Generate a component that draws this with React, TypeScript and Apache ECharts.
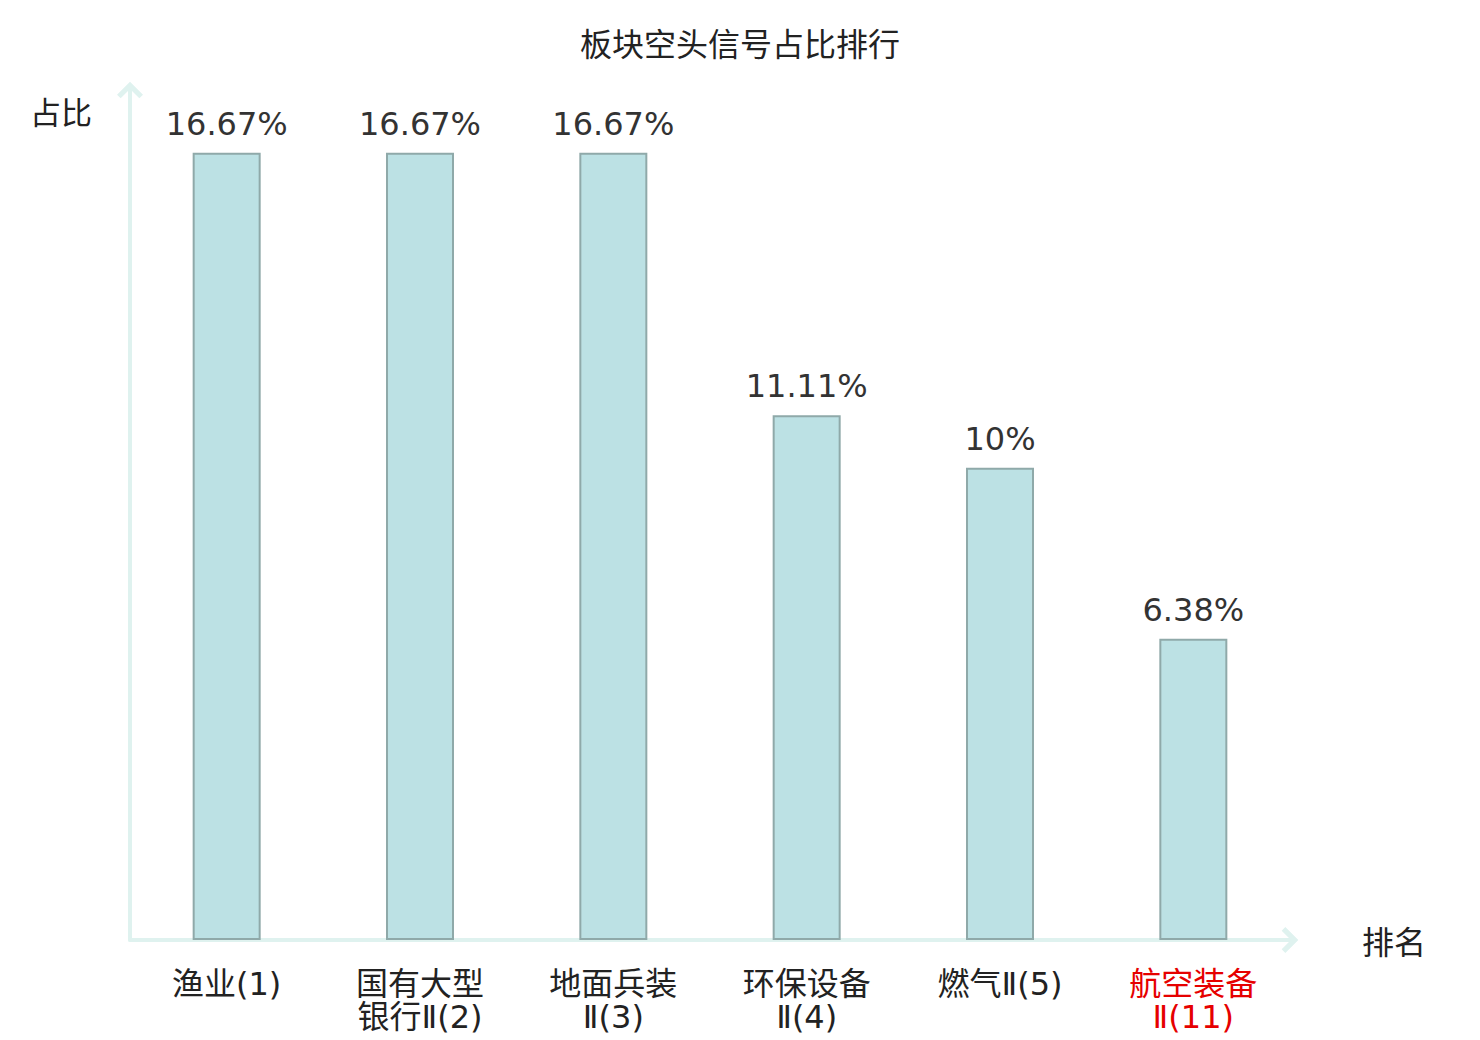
import React, { useEffect, useRef } from "react";
import * as echarts from "echarts";

const categories = [
  "渔业(1)",
  "国有大型\n银行Ⅱ(2)",
  "地面兵装\nⅡ(3)",
  "环保设备\nⅡ(4)",
  "燃气Ⅱ(5)",
  "航空装备\nⅡ(11)",
];
const shares = [16.67, 16.67, 16.67, 11.11, 10, 6.38];
const highlightIndex = 5;

const axisColor = "#dff2ef";
const chevronUp = "path://M0,12 L12,0 L24,12 L20.6,15.4 L12,6.8 L3.4,15.4 Z";
const latinFont = "'DejaVu Sans', 'Noto Sans CJK SC', sans-serif";
const cjkFont = "'Noto Sans CJK SC', sans-serif";

export default function App() {
  const ref = useRef<HTMLDivElement>(null);
  useEffect(() => {
    document.body.style.margin = "0";
    const chart = echarts.init(ref.current!, null, { renderer: "svg" });
    chart.setOption({
      animation: false,
      backgroundColor: "#ffffff",
      textStyle: { fontFamily: latinFont },
      title: {
        text: "板块空头信号占比排行",
        left: "center",
        top: 21,
        textStyle: { fontSize: 32, fontWeight: "normal", color: "#222", fontFamily: cjkFont },
      },
      grid: { left: 130, right: 190, top: 90, bottom: 100 },
      xAxis: {
        type: "category",
        data: categories,
        name: "排名",
        nameLocation: "end",
        nameGap: 72,
        nameTextStyle: { fontSize: 32, color: "#222", fontFamily: cjkFont },
        axisLine: {
          show: true,
          symbol: ["none", chevronUp],
          symbolSize: [26, 17],
          lineStyle: { color: axisColor, width: 4 },
        },
        axisTick: { show: false },
        axisLabel: {
          fontSize: 32,
          lineHeight: 33,
          margin: 27,
          interval: 0,
          fontFamily: latinFont,
          color: (_v: string, i: number) => (i === highlightIndex ? "#e60000" : "#222"),
        },
      },
      yAxis: {
        type: "value",
        min: 0,
        max: 18,
        name: "占比",
        nameLocation: "end",
        nameGap: -20,
        nameTextStyle: {
          fontSize: 31,
          color: "#222",
          fontFamily: cjkFont,
          align: "right",
          verticalAlign: "middle",
          padding: [0, 38, 0, 0],
        },
        axisLine: {
          show: true,
          symbol: ["none", chevronUp],
          symbolSize: [26, 17],
          lineStyle: { color: axisColor, width: 4 },
        },
        axisTick: { show: false },
        axisLabel: { show: false },
        splitLine: { show: false },
      },
      series: [
        {
          type: "bar",
          data: shares,
          barWidth: 68,
          itemStyle: { color: "#bce1e4", borderColor: "#8fa9a9", borderWidth: 2 },
          label: {
            show: true,
            position: "top",
            distance: 13,
            fontSize: 32,
            color: "#333",
            fontFamily: latinFont,
            formatter: "{c}%",
          },
        },
      ],
    });
    return () => chart.dispose();
  }, []);
  return <div ref={ref} style={{ width: 1480, height: 1040 }} />;
}
